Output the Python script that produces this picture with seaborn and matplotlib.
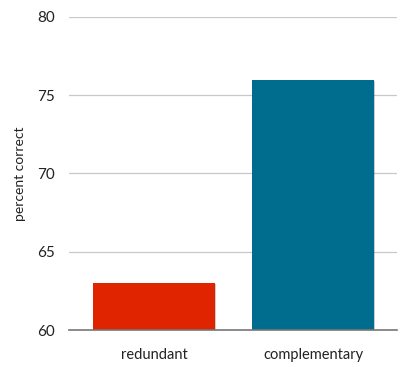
import matplotlib
matplotlib.use("Agg")
import matplotlib.pyplot as plt
import matplotlib.patheffects as pe
import seaborn as sns
import pandas as pd

conditions = ["redundant", "complementary"]
percent_correct = [63.0, 76.0]
bar_colors = ["#E02400", "#006C8E"]
y_ticks = [60, 65, 70, 75, 80]

sns.set_style("white")
plt.rcParams["font.family"] = ["Lato", "DejaVu Sans"]

df = pd.DataFrame({"condition": conditions, "percent": percent_correct})

fig = plt.figure(figsize=(4.04, 3.67), dpi=100)
ax = fig.add_axes([0.1708, 0.1008, 0.8119, 0.8529])

sns.barplot(data=df, x="condition", y="percent", hue="condition",
            palette=bar_colors, width=0.767, ax=ax, legend=False,
            saturation=1, zorder=3)

shadow = [pe.SimplePatchShadow(offset=(0.8, -0.8), shadow_rgbFace="black",
                               alpha=0.2, rho=0.5), pe.Normal()]
for p in ax.patches:
    p.set_edgecolor("none")
    p.set_path_effects(shadow)

ax.set_ylim(60, 80)
ax.set_xlim(-0.535, 1.528)
ax.set_yticks(y_ticks)
ax.set_yticklabels([str(t) for t in y_ticks], fontsize=11, color="#222222")
ax.tick_params(axis="y", length=0, pad=10)
ax.tick_params(axis="x", length=0, pad=13, labelsize=10.5, labelcolor="#222222")
for t in y_ticks[1:]:
    ax.axhline(t, color="#c8c8c8", linewidth=0.9, zorder=1)
for side in ["top", "right", "left"]:
    ax.spines[side].set_visible(False)
ax.spines["bottom"].set_color("#777777")
ax.spines["bottom"].set_linewidth(1.2)
ax.spines["bottom"].set_zorder(4)
ax.set_xlabel("")
ax.set_ylabel("percent correct", fontsize=10, color="#222222", labelpad=8)

fig.savefig("out.png", dpi=100)
